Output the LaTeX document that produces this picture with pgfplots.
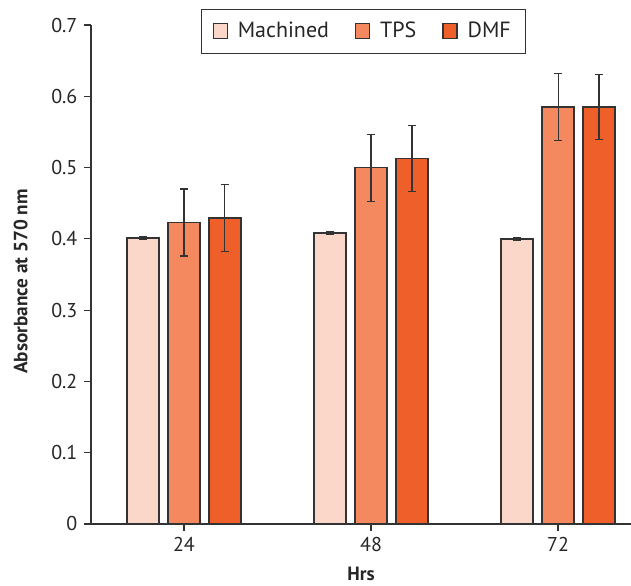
\documentclass[border=0pt]{standalone}
\usepackage{fontspec}
\setmainfont{PT Sans}
\usepackage{pgfplots}
\pgfplotsset{compat=1.18}
\definecolor{machined}{HTML}{FAD7C8}
\definecolor{tps}{HTML}{F4895F}
\definecolor{dmf}{HTML}{EF5F2A}
\definecolor{edge}{HTML}{333333}

\pgfplotsset{
  errs/.style={
    error bars/y dir=both, error bars/y explicit,
    error bars/error bar style={edge, line width=0.55pt},
    error bars/error mark options={rotate=90, mark size=1.9pt, edge, line width=0.55pt},
  },
}

\begin{document}
\begin{tikzpicture}
\begin{axis}[
  name=ax,
  width=270pt, height=249.5pt, scale only axis,
  ymin=0, ymax=0.7, ytick={0,0.1,0.2,0.3,0.4,0.5,0.6,0.7},
  xmin=-0.497, xmax=2.39,
  xtick={0,1,2}, xticklabels={24,48,72},
  axis lines=left, axis line style={-, line width=0.6pt, edge},
  tick align=outside, major tick length=3.3pt,
  tick style={edge, line width=0.6pt},
  ticklabel style={font=\fontsize{10}{12}\selectfont, text=black!85},
  yticklabel style={/pgf/number format/fixed, /pgf/number format/precision=1,
    /pgf/number format/assume math mode=true},
  ylabel={\bfseries Absorbance at 570 nm},
  ylabel style={font=\fontsize{9.6}{11}\selectfont, text=black!85, at={(axis description cs:-0.1305,0.486)}, anchor=center},
  xlabel={\bfseries Hrs},
  xlabel style={font=\fontsize{9.6}{11}\selectfont, text=black!85, at={(axis description cs:0.5,-0.1)}, anchor=center},
  ybar, bar width=0.171,
  legend style={at={(0.505,1.032)}, anchor=north, legend columns=-1,
    draw=edge, line width=0.6pt, font=\fontsize{11}{13}\selectfont, text=black!85,
    inner xsep=5.5pt, inner ysep=4.2pt,
    /tikz/every odd column/.append style={column sep=3pt},
    /tikz/every even column/.append style={column sep=11pt}},
  legend image code/.code={\draw[#1, draw=edge, line width=0.6pt] (0pt,-3.75pt) rectangle (7pt,3.75pt);},
]
\addplot[fill=machined, draw=edge, line width=0.7pt, bar shift=-0.219, errs]
  coordinates {(0,0.401) +- (0,0.002) (1,0.408) +- (0,0.002) (2,0.400) +- (0,0.002)};
\addlegendentry{Machined}
\addplot[fill=tps, draw=edge, line width=0.7pt, bar shift=0, errs]
  coordinates {(0,0.423) +- (0,0.047) (1,0.500) +- (0,0.047) (2,0.585) +- (0,0.047)};
\addlegendentry{TPS}
\addplot[fill=dmf, draw=edge, line width=0.7pt, bar shift=0.219, errs]
  coordinates {(0,0.429) +- (0,0.047) (1,0.513) +- (0,0.046) (2,0.585) +- (0,0.046)};
\addlegendentry{DMF}
\end{axis}
\pgfresetboundingbox
\useasboundingbox ([xshift=-45.5pt,yshift=-31pt]ax.south west) rectangle ([yshift=12.5pt]ax.north east);
\end{tikzpicture}
\end{document}
